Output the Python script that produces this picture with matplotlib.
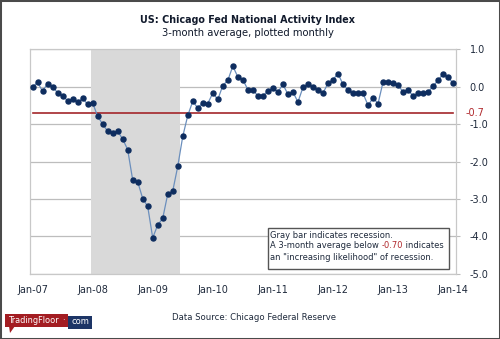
import matplotlib
matplotlib.use('Agg')
import matplotlib.pyplot as plt
from matplotlib.patches import Rectangle, Polygon
from matplotlib.transforms import blended_transform_factory
import numpy as np

# CFNAI 3-month moving average, Jan 2007 .. Jan 2014 (monthly)
cfnai_ma3 = [
    -0.02, 0.12, -0.12, 0.08, 0.00, -0.16, -0.25, -0.37, -0.33, -0.42, -0.31, -0.47,
    -0.43, -0.79, -1.00, -1.19, -1.25, -1.19, -1.40, -1.68, -2.49, -2.54, -2.99, -3.20,
    -4.04, -3.70, -3.52, -2.87, -2.79, -2.13, -1.33, -0.77, -0.39, -0.57, -0.43, -0.45,
    -0.17, -0.34, 0.03, 0.17, 0.55, 0.26, 0.19, -0.08, -0.08, -0.25, -0.25, -0.11,
    -0.03, -0.14, 0.06, -0.20, -0.14, -0.41, -0.02, 0.06, 0.00, -0.09, -0.17, 0.09,
    0.19, 0.35, 0.06, -0.09, -0.18, -0.18, -0.18, -0.50, -0.30, -0.45, 0.13, 0.13,
    0.11, 0.04, -0.14, -0.09, -0.25, -0.18, -0.16, -0.14, 0.02, 0.17, 0.35, 0.25,
    0.09,
]
year_labels = ['Jan-07', 'Jan-08', 'Jan-09', 'Jan-10', 'Jan-11', 'Jan-12', 'Jan-13', 'Jan-14']
y_ticks = [1.0, 0.0, -1.0, -2.0, -3.0, -4.0, -5.0]
threshold = -0.70
recession = (11.7, 29.4)  # Dec-07 .. Jun-09, in months since Jan-07

W, H = 500, 339
fig = plt.figure(figsize=(W / 100, H / 100), dpi=100)
plt.rcParams['font.family'] = 'DejaVu Sans'


def fx(px):
    return px / W


def fy(py):
    return 1 - py / H


ax = fig.add_axes([fx(30), fy(273.7), fx(455.7) - fx(30), fy(49.3) - fy(273.7)])

months = np.arange(len(cfnai_ma3))
ax.axvspan(*recession, color='#d9d9d9', lw=0, zorder=1)
ax.plot([months[0], months[-1]], [threshold, threshold], color='#a3262a', lw=1.2, zorder=2)
ax.plot(months, cfnai_ma3, color='#6b8fbd', lw=0.9, zorder=3)
ax.plot(months, cfnai_ma3, ls='none', marker='o', ms=3.6, mfc='#0e2d5f', mec='#0e2d5f', zorder=4)

ax.set_xlim(-0.5, len(cfnai_ma3) - 0.5)
ax.set_ylim(-5, 1)
ax.set_xticks(np.arange(len(year_labels)) * 12)
ax.set_xticklabels(year_labels)
ax.set_yticks(y_ticks)
ax.set_yticklabels([f'{v:.1f}' for v in y_ticks])
ax.yaxis.tick_right()
ax.grid(axis='y', color='#bdbdbd', lw=0.9, zorder=0)
ax.set_axisbelow(True)
for s in ax.spines.values():
    s.set_color('#c8c8c8')
    s.set_linewidth(0.9)
ax.tick_params(axis='x', length=0, pad=8, labelsize=7, labelcolor='#1f2a3c')
ax.tick_params(axis='y', length=3, color='#bdbdbd', pad=7, labelsize=7, labelcolor='#1f2a3c')
for lbl in ax.get_yticklabels():
    lbl.set_horizontalalignment('left')

# red threshold label on the value axis
trans = blended_transform_factory(ax.transAxes, ax.transData)
ax.text(1 + 10 / 426, threshold, f'{threshold:.1f}', transform=trans, color='#b0282c',
        fontsize=7, ha='left', va='center')

# titles
fig.text(fx(248), fy(20), 'US: Chicago Fed National Activity Index', ha='center', va='center',
         fontsize=6.9, fontweight='bold', color='#111a2c')
fig.text(fx(247.5), fy(33.5), '3-month average, plotted monthly', ha='center', va='center',
         fontsize=7.2, color='#111a2c')

# note box
fig.patches.append(Rectangle((fx(267.7), fy(269)), fx(449.3) - fx(267.7), fy(228) - fy(269),
                             transform=fig.transFigure, facecolor='white', edgecolor='#555555',
                             lw=1.0, zorder=5))
note_kw = dict(fontsize=6.0, color='#1f2a3c', va='center', ha='left', zorder=6)
fig.text(fx(270), fy(235), 'Gray bar indicates recession.', **note_kw)
t1 = fig.text(fx(270), fy(246), 'A 3-month average below ', **note_kw)
t2 = fig.text(0, 0, '-0.70', **note_kw)
t2.set_color('#b0282c')
fig.text(fx(270), fy(257), 'an "increasing likelihood" of recession.', **note_kw)
fig.canvas.draw()
r = fig.canvas.get_renderer()
bb = t1.get_window_extent(r)
t2.set_position((bb.x1 / W, fy(246)))
bb2 = t2.get_window_extent(r)
fig.text(bb2.x1 / W, fy(246), ' indicates', **note_kw)

# footer
fig.text(fx(253.5), fy(318), 'Data Source: Chicago Federal Reserve', ha='center', va='center',
         fontsize=6.1, color='#1f2a3c')

# TradingFloor badge
fig.patches.append(Rectangle((fx(5), fy(326.7)), fx(67.7) - fx(5), fy(314.3) - fy(326.7),
                             transform=fig.transFigure, facecolor='#a31d22', edgecolor='none'))
fig.patches.append(Polygon([(fx(9), fy(326)), (fx(15), fy(326)), (fx(10), fy(333))],
                           closed=True, transform=fig.transFigure, facecolor='#a31d22',
                           edgecolor='none'))
fig.patches.append(Rectangle((fx(67.7), fy(329)), fx(91.7) - fx(67.7), fy(315.5) - fy(329),
                             transform=fig.transFigure, facecolor='#1d3566', edgecolor='none'))
fig.text(fx(34), fy(320.8), 'TradingFloor', ha='center', va='center', fontsize=5.9, color='white')
fig.text(fx(63), fy(320.8), '·', ha='center', va='center', fontsize=6.2, color='white')
fig.text(fx(80), fy(321.8), 'com', ha='center', va='center', fontsize=6.0, color='white')

# outer frame
fig.patches.append(Rectangle((0, 0), 1, 1, transform=fig.transFigure, facecolor='none',
                             edgecolor='#4a4a4a', lw=2.2))

fig.savefig('out.png', dpi=100)
